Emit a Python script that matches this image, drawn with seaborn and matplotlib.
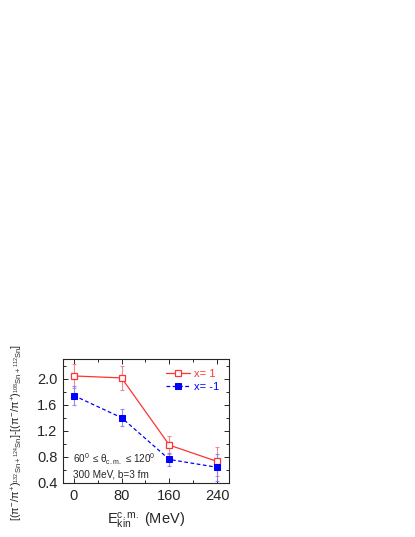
import matplotlib
matplotlib.use("Agg")
import matplotlib.pyplot as plt
import seaborn as sns
import pandas as pd
from matplotlib.ticker import MultipleLocator

sns.set_style("ticks")
plt.rcParams['font.family'] = ['Liberation Sans', 'DejaVu Sans']
plt.rcParams['mathtext.fontset'] = 'custom'
plt.rcParams['mathtext.rm'] = 'Liberation Sans'
plt.rcParams['mathtext.it'] = 'Liberation Sans'

energies = [0, 80, 160, 240]
x_pos_vals = [2.04, 2.01, 0.98, 0.73]
x_pos_err = [0.18, 0.18, 0.14, 0.22]
x_neg_vals = [1.74, 1.40, 0.76, 0.64]
x_neg_err = [0.15, 0.13, 0.10, 0.21]
x_ticks = [0, 80, 160, 240]
y_ticks = [0.4, 0.8, 1.2, 1.6, 2.0]

df = pd.DataFrame({
    'E': energies * 2,
    'val': x_pos_vals + x_neg_vals,
    'series': ['x= 1'] * 4 + ['x= -1'] * 4,
})

fig = plt.figure(figsize=(4.15, 5.37), dpi=100)
ax = fig.add_axes([0.152, 0.1006, 0.400, 0.2309])

ax.errorbar(energies, x_pos_vals, yerr=x_pos_err, fmt='none', ecolor='#f08080',
            elinewidth=0.8, capsize=1.5, capthick=0.8, alpha=0.9, zorder=2)
ax.errorbar(energies, x_neg_vals, yerr=x_neg_err, fmt='none', ecolor='#7f7fff',
            elinewidth=0.8, capsize=1.5, capthick=0.8, alpha=0.9, zorder=2)

sns.lineplot(data=df[df.series == 'x= 1'], x='E', y='val', ax=ax, color='#ff3333',
             linewidth=0.9, marker='s', markersize=4.2, markerfacecolor='white',
             markeredgecolor='#ff3333', markeredgewidth=0.9, label='x= 1', zorder=3)
sns.lineplot(data=df[df.series == 'x= -1'], x='E', y='val', ax=ax, color='#0000ff',
             linewidth=0.9, linestyle=(0, (3, 2)), marker='s', markersize=4.2,
             markerfacecolor='#0000ff', markeredgecolor='#0000ff', label='x= -1', zorder=3)

ax.set_xlim(-18, 260)
ax.set_ylim(0.4, 2.3)
ax.set_xticks(x_ticks)
ax.set_yticks(y_ticks)
ax.set_yticklabels([f'{v:.1f}' for v in y_ticks])
ax.xaxis.set_minor_locator(MultipleLocator(40))
ax.yaxis.set_minor_locator(MultipleLocator(0.2))
ax.tick_params(which='both', direction='in', top=True, right=True, labelsize=10.5)
ax.tick_params(which='major', length=3.5, width=0.7, pad=4)
ax.tick_params(which='minor', length=2, width=0.7)
for s in ax.spines.values():
    s.set_linewidth(0.8)

ax.set_xlabel(r'E$_{\mathregular{kin}}^{\mathregular{c.m.}}$ (MeV)', fontsize=10.5, labelpad=6)
ax.set_ylabel(r'[($\pi^{-}$/$\pi^{+}$)$_{^{132}\mathregular{Sn}+^{124}\mathregular{Sn}}$]-[($\pi^{-}$/$\pi^{+}$)$_{^{108}\mathregular{Sn}+^{112}\mathregular{Sn}}$]',
              fontsize=7.8)
ax.yaxis.set_label_coords(-0.23, 0.41)

ax.text(0.06, 0.19, r'60$^0$ $\leq\theta_{\mathregular{c.m.}}$ $\leq$120$^0$', transform=ax.transAxes,
        fontsize=7.2, ha='left', va='center')
ax.text(0.06, 0.065, '300 MeV, b=3 fm', transform=ax.transAxes, fontsize=7.2, ha='left', va='center')

leg = ax.legend(loc='upper right', frameon=False, fontsize=8, handlelength=2.2,
                handletextpad=0.3, borderaxespad=0.5, labelspacing=0.25)
for t, c in zip(leg.get_texts(), ['#ff3333', '#0000ff']):
    t.set_color(c)

fig.savefig('out.png', dpi=100)
